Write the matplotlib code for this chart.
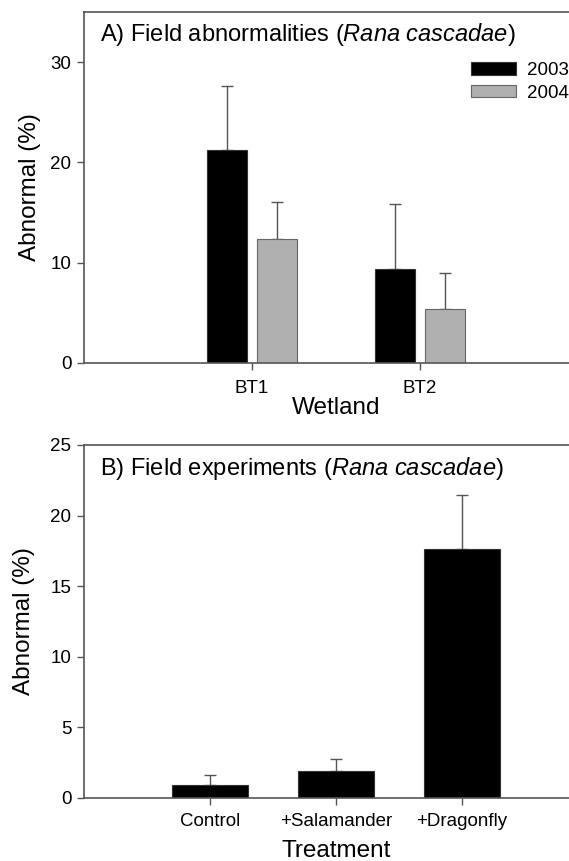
import numpy as np
import matplotlib
matplotlib.use("Agg")
import matplotlib.pyplot as plt

plt.rcParams["font.family"] = ["Liberation Sans", "DejaVu Sans"]
plt.rcParams["mathtext.fontset"] = "custom"
plt.rcParams["mathtext.rm"] = "Liberation Sans"
plt.rcParams["mathtext.it"] = "Liberation Sans:italic"

# panel A: field abnormalities by wetland and year
WETLANDS = ["BT1", "BT2"]
YEARS = ["2003", "2004"]
FIELD_MEAN = {"2003": [21.2, 9.4], "2004": [12.4, 5.35]}
FIELD_ERR = {"2003": [6.4, 6.45], "2004": [3.7, 3.65]}
YEAR_COLORS = {"2003": "#000000", "2004": "#b0b0b0"}

# panel B: field experiments
TREATMENTS = ["Control", "+Salamander", "+Dragonfly"]
EXP_MEAN = [0.92, 1.91, 17.6]
EXP_ERR = [0.71, 0.88, 3.85]

AXC = "#555555"
TICK_FS = 13.5
LAB_FS = 17.5
TITLE_FS = 17


def style(ax):
    for s in ["top", "bottom", "left"]:
        ax.spines[s].set_color(AXC)
        ax.spines[s].set_linewidth(1.2)
    ax.spines["right"].set_visible(False)
    ax.tick_params(axis="both", direction="out", length=5, width=1, color=AXC,
                   labelsize=TICK_FS)
    ax.tick_params(axis="y", pad=4)


fig = plt.figure(figsize=(5.69, 8.61), dpi=100)

# ---- A
ax = fig.add_axes([0.1476, 0.5784, 0.8858, 0.4077])
x = np.arange(1, len(WETLANDS) + 1)
w = 0.24
offs = {"2003": -0.15, "2004": 0.148}
for yr in YEARS:
    ax.bar(x + offs[yr], FIELD_MEAN[yr], w, color=YEAR_COLORS[yr],
           edgecolor="#333333" if yr == "2003" else "#666666", linewidth=0.8, label=yr, zorder=2)
    ax.errorbar(x + offs[yr], FIELD_MEAN[yr], yerr=[np.zeros(len(x)), FIELD_ERR[yr]],
                fmt="none", ecolor=AXC, elinewidth=1, capsize=4, capthick=1, zorder=1)
ax.set_xlim(0, 3)
ax.set_ylim(0, 35)
ax.set_yticks([0, 10, 20, 30])
ax.set_xticks(x)
ax.set_xticklabels(WETLANDS)
style(ax)
ax.tick_params(axis="x", pad=7)
ax.set_xlabel("Wetland", fontsize=LAB_FS, labelpad=0)
ax.set_ylabel("Abnormal (%)", fontsize=LAB_FS, labelpad=7)
ax.text(0.032, 0.917, r"A) Field abnormalities ($\it{Rana\ cascadae}$)", transform=ax.transAxes,
        fontsize=TITLE_FS, va="baseline", ha="left")
ax.legend(loc="upper left", bbox_to_anchor=(0.768, 0.857), frameon=False, fontsize=TICK_FS,
          handlelength=2.4, handleheight=0.65, labelspacing=0.3, borderpad=0,
          borderaxespad=0, handletextpad=0.6)

# ---- B
ax = fig.add_axes([0.1476, 0.0732, 0.8858, 0.41])
x = np.arange(1, len(TREATMENTS) + 1)
ax.bar(x, EXP_MEAN, 0.6, color="#000000", edgecolor="#333333", linewidth=0.8, zorder=2)
ax.errorbar(x, EXP_MEAN, yerr=[np.zeros(len(x)), EXP_ERR], fmt="none", ecolor=AXC,
            elinewidth=1, capsize=4, capthick=1, zorder=1)
ax.set_xlim(0, 4)
ax.set_ylim(0, 25)
ax.set_yticks([0, 5, 10, 15, 20, 25])
ax.set_xticks(x)
ax.set_xticklabels(TREATMENTS)
style(ax)
ax.tick_params(axis="x", pad=6)
ax.set_xlabel("Treatment", fontsize=LAB_FS, labelpad=7)
ax.set_ylabel("Abnormal (%)", fontsize=LAB_FS, labelpad=11)
ax.text(0.032, 0.915, r"B) Field experiments ($\it{Rana\ cascadae}$)", transform=ax.transAxes,
        fontsize=TITLE_FS, va="baseline", ha="left")

fig.savefig("out.png", dpi=100)
